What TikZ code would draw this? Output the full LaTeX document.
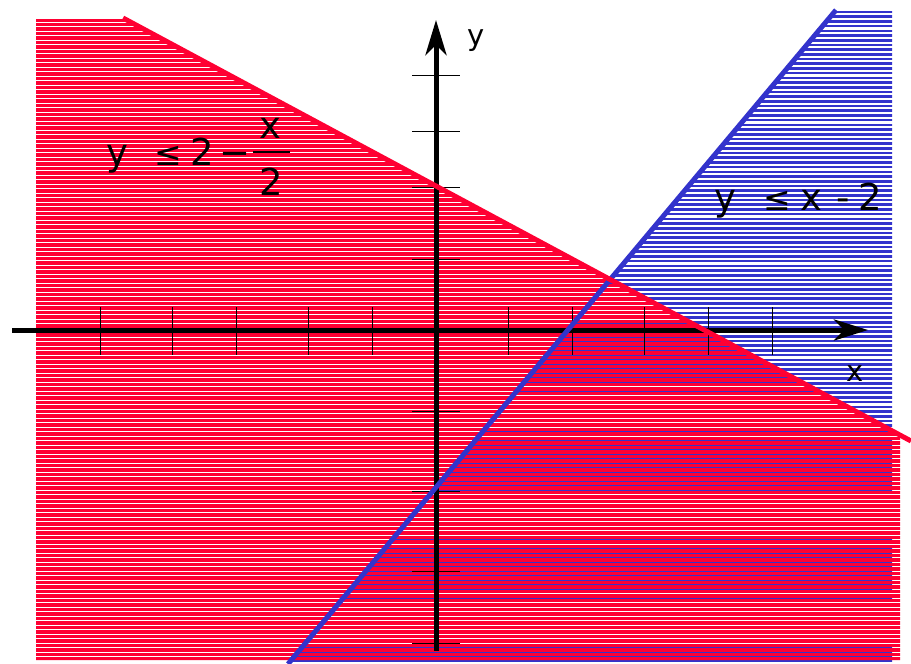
\documentclass[tikz,border=0pt]{standalone}
\usepackage{fontspec}
\setmainfont{DejaVu Sans}
\usetikzlibrary{arrows.meta}
\definecolor{hred}{RGB}{255,0,51}
\definecolor{hblue}{RGB}{51,51,204}
\tikzset{
  axisline/.style={line width=5pt,black},
  tickline/.style={line width=1pt,black},
  redhatch/.style={line width=3.3pt,hred},
  bluehatch/.style={line width=2.6pt,hblue},
  bigtxt/.style={inner sep=0pt,anchor=base west,font=\fontsize{37}{40}\selectfont},
  axtxt/.style={inner sep=0pt,anchor=base west,font=\fontsize{29}{32}\selectfont},
}
\begin{document}
\begin{tikzpicture}[x=1pt,y=-1pt]
\useasboundingbox (0,0) rectangle (911,664);
% blue hatch region
\begin{scope}
  \clip (835,10) -- (892,10) -- (892,664) -- (288,664) -- cycle;
  \foreach \i in {0,...,140} {
    \draw[bluehatch] (280,{12+4.7*\i}) -- (900,{12+4.7*\i});
  }
\end{scope}
% red hatch region
\begin{scope}
  \clip (36,19) -- (125,19) -- (900,436) -- (900,660) -- (36,660) -- cycle;
  \foreach \i in {0,...,145} {
    \draw[redhatch] (30,{20+4.5*\i}) -- (905,{20+4.5*\i});
  }
\end{scope}
% axes
\coordinate (xs) at (12,330);
\coordinate (xe) at (868,330);
\coordinate (ys) at (436,651);
\coordinate (ye) at (436,20);
\draw[axisline,-{Stealth[length=34pt,width=21pt,inset=10pt]}] (xs) -- (xe);
\draw[axisline,-{Stealth[length=35pt,width=21pt,inset=10pt]}] (ys) -- (ye);
% ticks
\foreach \tx in {100,172,236,308,372,508,572,644,708,772} {
  \draw[tickline] (\tx,307) -- (\tx,355);
}
\foreach \ty in {75,131,187,259,411,491,571,643} {
  \draw[tickline] (412,\ty) -- (460,\ty);
}
% boundary lines
\coordinate (b1) at (288,664);
\coordinate (b2) at (836,10);
\coordinate (r1) at (123,18);
\coordinate (r2) at (911,441);
\draw[line width=5pt,hblue] (b1) -- (b2);
\draw[line width=5pt,hred] (r1) -- (r2);
% axis labels
\node[axtxt] (ylab) at (467,45) {y};
\node[axtxt] (xlab) at (846,381) {x};
% left inequality
\node[bigtxt] (l1) at (106,165) {y};
\node[bigtxt,font=\fontsize{33}{36}\selectfont] (l2) at (154,165) {≤};
\node[bigtxt] (l3) at (190,165) {2};
\node[bigtxt] (l4) at (219,165) {−};
\node[bigtxt] (l5) at (259,138) {x};
\draw[line width=2pt,black] (253,152) -- (290,152);
\node[bigtxt] (l6) at (259,195) {2};
% right inequality
\node[bigtxt] (r1t) at (714,210) {y};
\node[bigtxt,font=\fontsize{33}{36}\selectfont] (r2t) at (763,210) {≤};
\node[bigtxt] (r3t) at (800,210) {x};
\node[bigtxt] (r4t) at (836,210) {-};
\node[bigtxt] (r5t) at (858,210) {2};
\end{tikzpicture}
\end{document}
